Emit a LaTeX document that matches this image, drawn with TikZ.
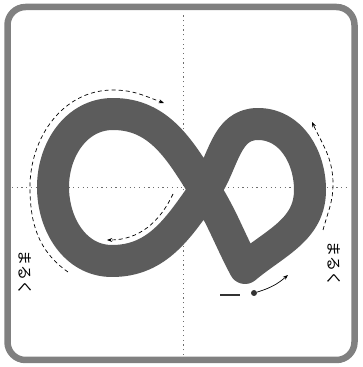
\documentclass[tikz,border=0pt]{standalone}
\usepackage{fontspec}
\newfontfamily\jpfont{Noto Sans CJK JP}
\usetikzlibrary{arrows.meta,positioning,calc}
\definecolor{InkGray}{RGB}{92,92,92}
\definecolor{FrameGray}{RGB}{128,128,128}
\definecolor{GuideGray}{RGB}{110,110,110}

\begin{document}
\begin{tikzpicture}[x=1pt,y=1pt,
      frame/.style={draw=FrameGray,line width=6.5pt,rounded corners=18pt},
      gridLine/.style={draw=GuideGray,line width=0.6pt,dash pattern=on 1.2pt off 3.5pt},
      inkStroke/.style={draw=InkGray,line width=32pt,line cap=round,line join=round},
      ar/.style={-{Stealth[scale=0.85]},line width=0.7pt,dash pattern=on 4pt off 3pt},
      startAr/.style={-{Stealth[scale=0.85]},line width=0.7pt},
      startDot/.style={circle,fill=black!80,minimum size=6pt,inner sep=0pt},
      lbl/.style={font=\jpfont\fontsize{15}{15}\selectfont,rotate=-90,inner sep=0pt}
    ]
    \useasboundingbox (0,0) rectangle (362,367);

    % Frame and centre lines
    \draw[frame] (7.5,7) rectangle (354.5,360);
    \draw[gridLine] (183,12) -- (183,355);
    \draw[gridLine] (12,180) -- (350,180);

    % Key points of the figure eight
    \coordinate (s) at (245,99);
    \coordinate (r) at (310,177);
    \coordinate (rt) at (258,243);
    \coordinate (x) at (205,177);
    \coordinate (lb) at (112,106);
    \coordinate (l) at (53,180);
    \coordinate (lt) at (113,253);

    % The stroke
    \draw[inkStroke] (s) to[out=40,in=-90] (r) to[out=90,in=0] (rt)
      to[out=180,in=55] (x) to[out=-125,in=0] (lb) to[out=180,in=-90] (l)
      to[out=90,in=180] (lt) to[out=0,in=122] (x) to[out=-58,in=118] (s);

    % Guide arrows
    \coordinate (g1a) at (68,95);
    \coordinate (g1b) at (30,180);
    \coordinate (g1c) at (113,277);
    \coordinate (g1d) at (164,264);
    \draw[ar] (g1a) to[out=145,in=-90] (g1b) to[out=90,in=180] (g1c) to[out=0,in=160] (g1d);

    \coordinate (g2a) at (173,173);
    \coordinate (g2b) at (107,127);
    \draw[ar] (g2a) to[out=-115,in=0] (g2b);

    \coordinate (g3a) at (323,137);
    \coordinate (g3b) at (333,183);
    \coordinate (g3c) at (312,245);
    \draw[ar] (g3a) to[out=75,in=-90] (g3b) to[out=90,in=-65] (g3c);

    % Start mark
    \node[startDot] (dot) at (254,74) {};
    \coordinate (dotTip) at (288,92);
    \draw[startAr] (dot) to[bend right=12] (dotTip);
    \coordinate (dashA) at (220,72);
    \coordinate (dashB) at (240,72);
    \draw[line width=1.6pt,black!80] (dashA) -- (dashB);

    % Labels
    \node[lbl] (lblL) at (25,94) {まるく};
    \node[lbl] (lblR) at (334,103) {まるく};
  \end{tikzpicture}
\end{document}
